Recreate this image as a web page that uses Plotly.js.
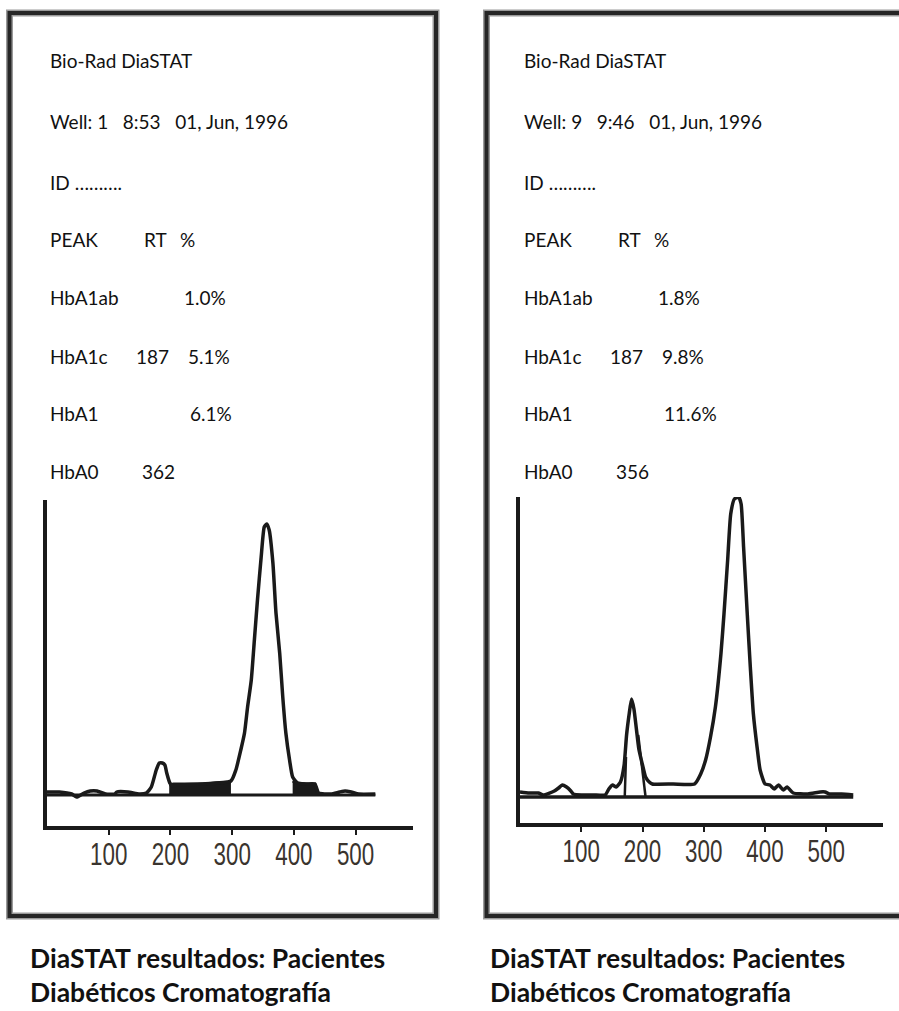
<!DOCTYPE html>
<html>
<head>
<meta charset="utf-8">
<script src="https://cdn.plot.ly/plotly-3.0.1.min.js"></script>
<style>
html,body{margin:0;padding:0;background:#fff;}
#chart{width:899px;height:1011px;}
</style>
</head>
<body>
<div id="chart"></div>
<script>
// ---------- DATA ----------
const tickValues = [100, 200, 300, 400, 500];
const tickLabels = ["100", "200", "300", "400", "500"];

const headerLeft = ["Bio-Rad DiaSTAT", "Well: 1   8:53   01, Jun, 1996", "ID ………."];
const headerRight = ["Bio-Rad DiaSTAT", "Well: 9   9:46   01, Jun, 1996", "ID ………."];
const tableHead = ["PEAK", "RT", "%"];
const peakNames = ["HbA1ab", "HbA1c", "HbA1", "HbA0"];
const rtLeft = ["", "187", "", "362"];
const pctLeft = ["1.0%", "5.1%", "6.1%", ""];
const rtRight = ["", "187", "", "356"];
const pctRight = ["1.8%", "9.8%", "11.6%", ""];
const caption = ["DiaSTAT resultados: Pacientes", "Diabéticos Cromatografía"];

// Left chromatogram (retention time vs detector signal)
const leftRT  = [0, 20, 40, 48, 60, 70, 81, 95, 110, 113, 131, 150, 161, 169, 177, 182, 187, 191, 194, 199, 204, 210, 250, 298, 306, 314, 320, 325, 331, 336, 341, 347, 352, 356, 360, 366, 371, 377, 382, 387, 393, 398, 406, 420, 434, 440, 460, 474, 483, 493, 505, 532];
const leftSig = [3, 3, 1, -2, 2, 4, 4, 1, 1, 3, 3, 1, 2, 8, 25, 32, 32, 30, 22, 12, 9, 10, 11, 14, 25, 45, 62, 88, 115, 155, 195, 238, 268, 271, 265, 232, 182, 142, 98, 62, 35, 18, 12, 11, 11, 2, 1, 3, 4, 3, 1, 1];
const leftBandA_RT = [198, 205, 250, 298];
const leftBandA_Sig = [10, 11, 11, 13];
const leftBandB_RT = [398, 406, 420, 434, 438];
const leftBandB_Sig = [14, 12, 11, 11, 3];
const leftBaseRT = [0, 532];
const leftBaseSig = [0, 0];

// Right chromatogram
const rightRT  = [0, 15, 30, 38, 56, 63, 69, 76, 83, 87, 100, 120, 139, 145, 151, 157, 164, 170, 174, 178, 182, 186, 190, 194, 200, 205, 211, 216, 250, 285, 295, 303, 311, 319, 328, 333, 339, 344, 350, 357, 361, 365, 371, 376, 381, 387, 392, 400, 408, 415, 422, 430, 436, 446, 470, 490, 498, 505, 525, 544];
const rightSig = [5, 4, 4, 2, 6, 9, 12, 10, 6, 3, 2, 2, 2, 8, 12, 10, 15, 32, 62, 82, 98, 88, 68, 48, 32, 20, 15, 13, 13, 13, 23, 37, 60, 90, 143, 183, 237, 283, 298, 300, 293, 250, 183, 130, 83, 50, 27, 13, 12, 8, 12, 7, 10, 4, 3, 5, 5, 3, 3, 2];
const rightSkimRT  = [171, 173, null, 193, 205];
const rightSkimSig = [0, 40, null, 62, 0];
const rightBaseRT = [0, 544];
const rightBaseSig = [0, 0];

// ---------- LAYOUT HELPERS ----------
const W = 899, H = 1011;
const fx = v => v / W;
const fy = v => 1 - v / H;
const ink = "#1a1a1a";
const textFont = {family: "Lato, 'Open Sans', sans-serif", size: 19, color: "#111"};
const capFont = {family: "Lato, 'Open Sans', sans-serif", size: 26.5, color: "#111", weight: 700};
const tickFont = {family: "'Liberation Sans', Arial, sans-serif", size: 32, color: "#3a342e"};

const sigLine = {color: ink, width: 3.5, shape: "spline", smoothing: 0.5};

const traces = [
  {x: leftBaseRT, y: leftBaseSig, xaxis: "x", yaxis: "y", mode: "lines", line: {color: ink, width: 3}, hoverinfo: "skip"},
  {x: leftBandA_RT, y: leftBandA_Sig, xaxis: "x", yaxis: "y", mode: "lines", fill: "tozeroy", fillcolor: ink, line: {color: ink, width: 3}, hoverinfo: "skip"},
  {x: leftBandB_RT, y: leftBandB_Sig, xaxis: "x", yaxis: "y", mode: "lines", fill: "tozeroy", fillcolor: ink, line: {color: ink, width: 3}, hoverinfo: "skip"},
  {x: leftRT, y: leftSig, xaxis: "x", yaxis: "y", mode: "lines", line: sigLine},
  {x: rightBaseRT, y: rightBaseSig, xaxis: "x2", yaxis: "y2", mode: "lines", line: {color: ink, width: 3.5}, hoverinfo: "skip"},
  {x: rightSkimRT, y: rightSkimSig, xaxis: "x2", yaxis: "y2", mode: "lines", line: {color: ink, width: 2.5}, connectgaps: false, hoverinfo: "skip"},
  {x: rightRT, y: rightSig, xaxis: "x2", yaxis: "y2", mode: "lines", line: sigLine}
];

function xAxis(l, r, maxV) {
  return {
    domain: [fx(l), fx(r)], range: [0, maxV], showline: true, linecolor: ink, linewidth: 4,
    ticks: "outside", ticklen: 5, tickwidth: 2, tickcolor: ink,
    tickvals: tickValues, ticktext: tickLabels, tickfont: tickFont, ticklabelstandoff: -8,
    showgrid: false, zeroline: false, fixedrange: true
  };
}
function yAxis(top, bottom, lo, hi) {
  return {
    domain: [fy(bottom), fy(top)], range: [lo, hi], showline: true, linecolor: ink, linewidth: 4,
    ticks: "", showticklabels: false, showgrid: false, zeroline: false, fixedrange: true
  };
}

const annotations = [];
function addText(txt, x, y, font, yanchor) {
  if (!txt) return;
  annotations.push({text: txt, x: fx(x), y: fy(y), xref: "paper", yref: "paper",
    xanchor: "left", yanchor: yanchor || "middle", align: "left", showarrow: false, font: font});
}
const rowY = [60, 122, 182, 240, 297, 356, 413.5, 471.5];
const rtOff = [0, 86, 0, 92];
const pctOff = [134, 138, 140, 0];
function panelText(x0, header, rts, pcts) {
  header.forEach((t, i) => addText(t, x0, rowY[i], textFont));
  addText(tableHead[0], x0, rowY[3], textFont);
  addText(tableHead[1], x0 + 94, rowY[3], textFont);
  addText(tableHead[2], x0 + 130, rowY[3], textFont);
  peakNames.forEach((n, i) => {
    addText(n, x0, rowY[4 + i], textFont);
    addText(rts[i], x0 + rtOff[i], rowY[4 + i], textFont);
    addText(pcts[i], x0 + pctOff[i], rowY[4 + i], textFont);
  });
}
panelText(48, headerLeft, rtLeft, pctLeft);
panelText(522, headerRight, rtRight, pctRight);
[28, 488].forEach(x0 => {
  addText(caption.join("<br>"), x0, 940, capFont, "top");
});

function box(l, t, r, b) {
  return [
    {type: "rect", xref: "paper", yref: "paper", x0: fx(l), x1: fx(r), y0: fy(b), y1: fy(t),
     line: {color: "#9a9a9a", width: 7}, layer: "above"},
    {type: "rect", xref: "paper", yref: "paper", x0: fx(l), x1: fx(r), y0: fy(b), y1: fy(t),
     line: {color: "#262626", width: 4}, layer: "above"}
  ];
}

const layout = {
  width: W, height: H, margin: {l: 0, r: 0, t: 0, b: 0},
  paper_bgcolor: "#fff", plot_bgcolor: "rgba(0,0,0,0)", showlegend: false,
  xaxis: xAxis(47, 413, 593),
  yaxis: yAxis(500, 826, -31, 295),
  xaxis2: Object.assign(xAxis(520, 883, 592.6), {anchor: "y2"}),
  yaxis2: Object.assign(yAxis(497, 823, -26, 300), {anchor: "x2"}),
  shapes: [].concat(box(9.5, 13, 436, 916), box(486.5, 13, 910, 916)),
  annotations: annotations
};
layout.xaxis.anchor = "y";
layout.yaxis.anchor = "x";

Plotly.newPlot("chart", traces, layout, {displayModeBar: false, staticPlot: true}).then(gd => {
  // condensed look for the tick numerals
  gd.querySelectorAll(".xtick text, .x2tick text").forEach(t => {
    const tr = t.getAttribute("transform") || "";
    t.setAttribute("transform", tr + " scale(0.7,1)");
  });
});
</script>
</body>
</html>
